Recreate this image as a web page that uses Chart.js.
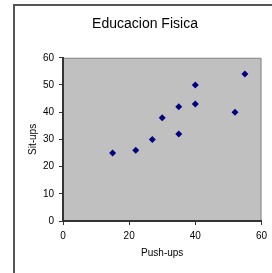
<!DOCTYPE html>
<html>
<head>
<meta charset="utf-8">
<script src="https://cdn.jsdelivr.net/npm/chart.js@4"></script>
<style>
html,body{margin:0;padding:0;background:#fff;}
#wrap{width:272px;height:273px;}
</style>
</head>
<body>
<div id="wrap"><canvas id="c" width="272" height="273"></canvas></div>
<script>
const chartTitle = "Educacion Fisica";
const xTitle = "Push-ups";
const yTitle = "Sit-ups";
const pushUps = [15, 22, 27, 30, 35, 35, 40, 40, 52, 55];
const sitUps  = [25, 26, 30, 38, 42, 32, 50, 43, 40, 54];
const xTicks = [0, 20, 40, 60];
const yTicks = [0, 10, 20, 30, 40, 50, 60];

const points = pushUps.map((x, i) => ({x: x, y: sitUps[i]}));
const FONT = "'Liberation Sans', Arial, sans-serif";

const framePlugin = {
  id: 'frame',
  beforeDraw(chart) {
    const ctx = chart.ctx;
    const a = chart.chartArea;
    ctx.save();
    ctx.fillStyle = '#ffffff';
    ctx.fillRect(0, 0, chart.width, chart.height);
    ctx.strokeStyle = '#555555';
    ctx.lineWidth = 2;
    ctx.strokeRect(14, 5, 400, 400);
    ctx.fillStyle = '#c0c0c0';
    ctx.fillRect(a.left, a.top, a.right - a.left, a.bottom - a.top);
    ctx.strokeStyle = '#8a8a8a';
    ctx.lineWidth = 1;
    ctx.beginPath();
    ctx.moveTo(a.left, a.top + 0.5);
    ctx.lineTo(a.right - 0.5, a.top + 0.5);
    ctx.lineTo(a.right - 0.5, a.bottom);
    ctx.stroke();
    ctx.restore();
  }
};

new Chart(document.getElementById('c'), {
  type: 'scatter',
  data: {
    datasets: [{
      data: points,
      pointStyle: 'rectRot',
      pointRadius: 3.5,
      pointHoverRadius: 3.5,
      backgroundColor: '#000080',
      borderColor: '#000080',
      borderWidth: 0
    }]
  },
  options: {
    responsive: false,
    animation: false,
    devicePixelRatio: 1,
    layout: { padding: { left: 26, right: 8, top: 0, bottom: 0 } },
    plugins: {
      legend: { display: false },
      tooltip: { enabled: false },
      title: {
        display: true,
        text: chartTitle,
        color: '#000',
        font: { family: FONT, size: 14, weight: 'normal' },
        padding: { top: 16, bottom: 25 }
      }
    },
    scales: {
      x: {
        type: 'linear',
        min: 0, max: 60,
        afterFit(s) { s.height = 52; },
        afterBuildTicks(s) { s.ticks = xTicks.map(v => ({value: v})); },
        ticks: { color: '#000', padding: 5, font: { family: FONT, size: 10 }, maxRotation: 0 },
        grid: { drawOnChartArea: false, drawTicks: true, tickLength: 4, color: '#333', lineWidth: 1 },
        border: { display: true, color: '#333', width: 2 },
        title: { display: true, text: xTitle, color: '#000', font: { family: FONT, size: 10 }, padding: { top: 0, bottom: 14 } }
      },
      y: {
        type: 'linear',
        min: 0, max: 60,
        afterFit(s) { s.width = 37; },
        afterBuildTicks(s) { s.ticks = yTicks.map(v => ({value: v})); },
        ticks: { color: '#000', padding: 5, font: { family: FONT, size: 10 } },
        grid: { drawOnChartArea: false, drawTicks: true, tickLength: 4, color: '#333', lineWidth: 1 },
        border: { display: true, color: '#333', width: 2 },
        title: { display: true, text: yTitle, color: '#000', font: { family: FONT, size: 10 }, padding: { top: 1, bottom: 0 } }
      }
    }
  },
  plugins: [framePlugin]
});
</script>
</body>
</html>
